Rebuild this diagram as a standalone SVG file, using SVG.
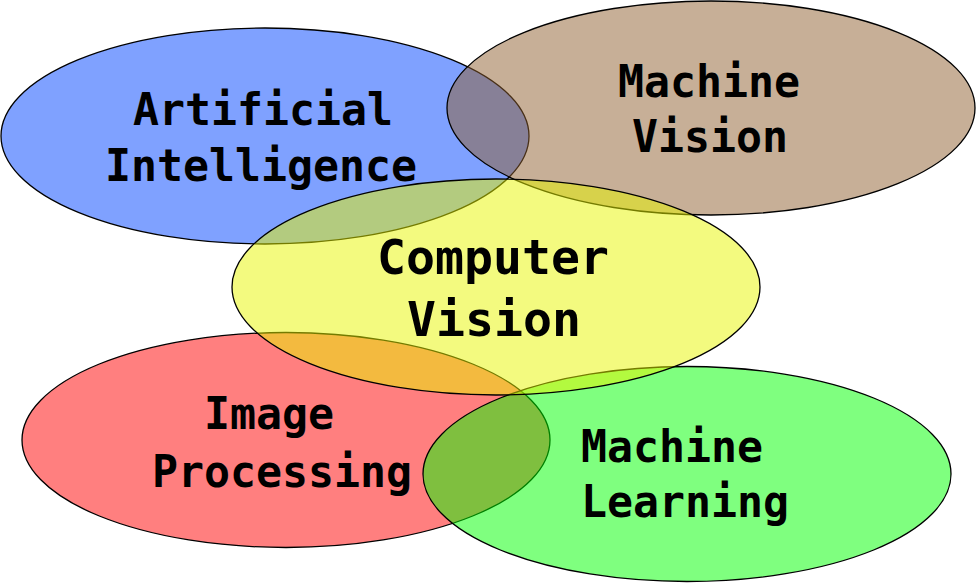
<svg xmlns="http://www.w3.org/2000/svg" width="976" height="583" viewBox="0 0 976 583">
<style>
.e{fill-opacity:0.5;stroke:#000;stroke-width:1.3}
.t{font-family:"DejaVu Sans Mono","Liberation Mono",monospace;font-weight:bold;font-size:45px;fill:#000}
.b{font-size:48px}
</style>
<rect width="976" height="583" fill="#fff"/>
<g id="ai"><ellipse class="e" cx="265" cy="136" rx="264" ry="108" fill="#0044ff"/></g>
<g id="mv"><ellipse class="e" cx="711" cy="108" rx="264" ry="107" fill="#8f5f2f"/></g>
<g id="ip"><ellipse class="e" cx="286" cy="440" rx="264" ry="107.5" fill="#ff0000"/></g>
<g id="ml"><ellipse class="e" cx="687" cy="474" rx="264" ry="107.5" fill="#00ff00"/></g>
<g id="cv"><ellipse class="e" cx="496" cy="287" rx="264" ry="108" fill="#e8f500"/></g>
<g id="labels">
<text class="t" x="133" y="125" textLength="260" lengthAdjust="spacingAndGlyphs">Artificial</text>
<text class="t" x="105" y="181" textLength="312" lengthAdjust="spacingAndGlyphs">Intelligence</text>
<text class="t" x="618" y="97" textLength="182" lengthAdjust="spacingAndGlyphs">Machine</text>
<text class="t" x="632" y="152" textLength="156" lengthAdjust="spacingAndGlyphs">Vision</text>
<text class="t b" x="377" y="274" textLength="232" lengthAdjust="spacingAndGlyphs">Computer</text>
<text class="t b" x="407" y="336" textLength="174" lengthAdjust="spacingAndGlyphs">Vision</text>
<text class="t" x="204" y="429" textLength="130" lengthAdjust="spacingAndGlyphs">Image</text>
<text class="t" x="152" y="487" textLength="260" lengthAdjust="spacingAndGlyphs">Processing</text>
<text class="t" x="581" y="462" textLength="182" lengthAdjust="spacingAndGlyphs">Machine</text>
<text class="t" x="581" y="517" textLength="208" lengthAdjust="spacingAndGlyphs">Learning</text>
</g>
</svg>
